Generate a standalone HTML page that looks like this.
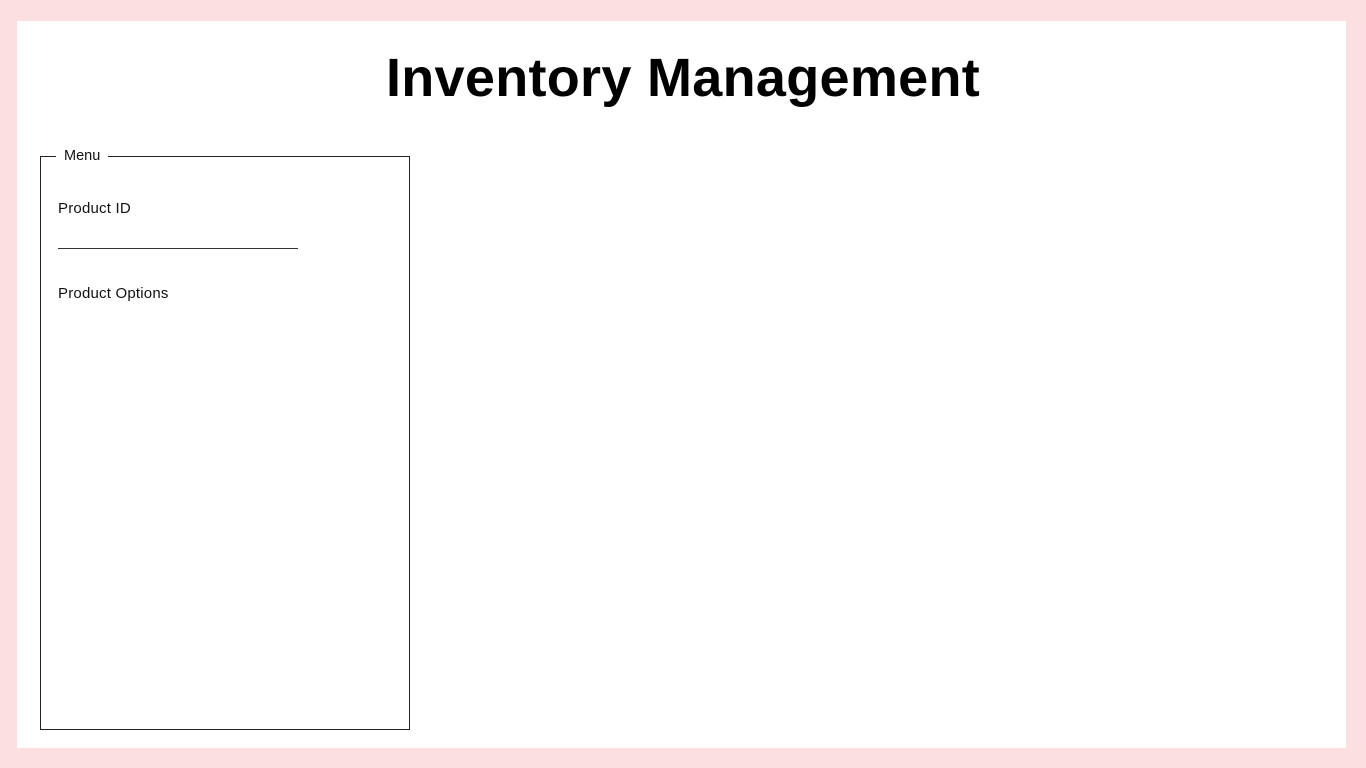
<!DOCTYPE html>
<html><head><style>
html,body{margin:0;padding:0}
body{width:1366px;height:768px;background:#fcdfe0;position:relative;overflow:hidden;font-family:"Liberation Sans",sans-serif}
.w{position:absolute;left:17px;top:21px;width:1329px;height:727px;background:#fff}
.t{position:absolute;left:0;width:1366px;top:47px;text-align:center;font-size:54px;font-weight:bold;color:#000;letter-spacing:0.3px}
.box{position:absolute;left:40px;top:156px;width:368px;height:572px;border:1px solid #222}
.lg{position:absolute;left:56px;top:148px;background:#fff;padding:0 8px;font-size:14.5px;color:#111}
.l{position:absolute;font-size:15px;color:#111;letter-spacing:0.2px}
.ln{position:absolute;left:58px;top:248px;width:240px;height:1px;background:#333}
</style></head><body>
<div class="w"></div>
<div class="t">Inventory Management</div>
<div class="box"></div>
<div class="lg">Menu</div>
<div class="l" style="left:58px;top:200px">Product ID</div>
<div class="ln"></div>
<div class="l" style="left:58px;top:285px">Product Options</div>
</body></html>
